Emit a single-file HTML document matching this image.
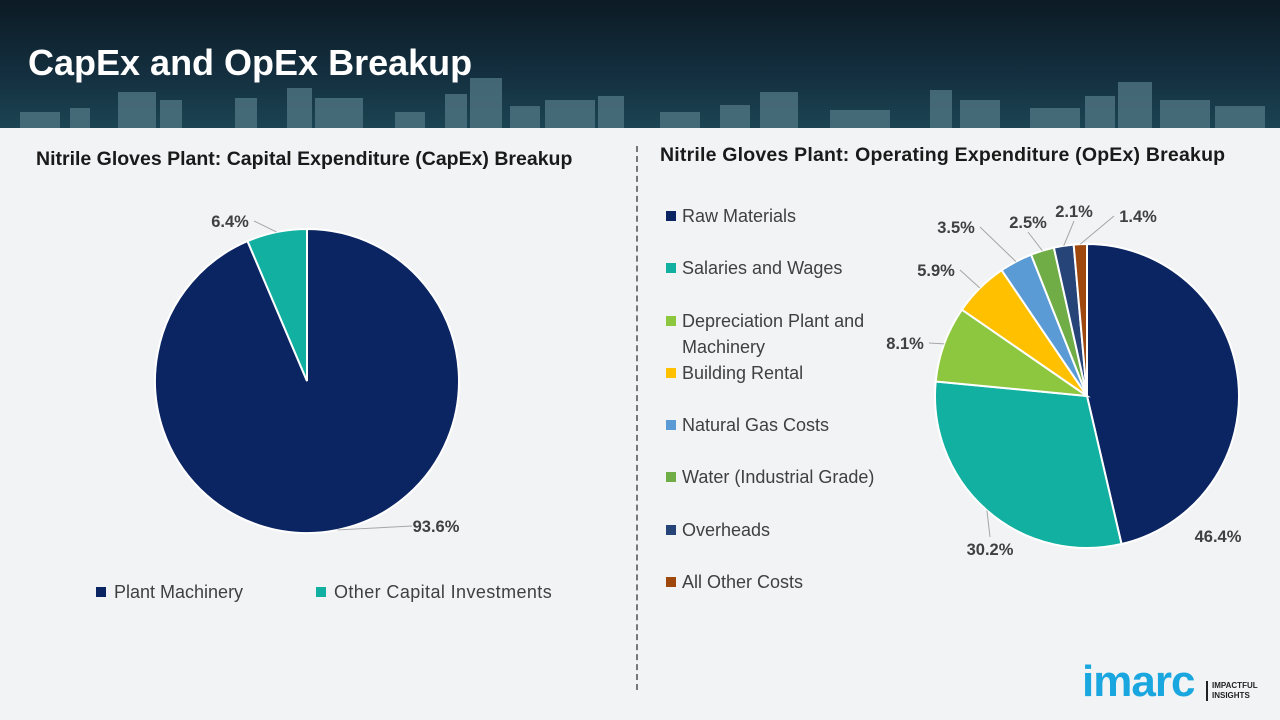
<!DOCTYPE html>
<html><head><meta charset="utf-8"><style>
body{margin:0;width:1280px;height:720px;overflow:hidden;font-family:"Liberation Sans","DejaVu Sans",sans-serif;background:#f2f3f4;position:relative}
.hdr{position:absolute;left:0;top:0;width:1280px;height:128px;background:linear-gradient(180deg,#0c1a24 0%,#143040 60%,#1b4452 100%)}
.title{position:absolute;left:28px;top:42px;color:#fff;font-weight:bold;font-size:36px}
.ct{position:absolute;font-weight:bold;font-size:19.5px;color:#1a1a1a;white-space:nowrap}
.leg{position:absolute;font-size:18px;color:#404040}
.sw{display:inline-block;width:10px;height:10px;margin-right:8px;vertical-align:1px}
</style></head><body>
<div class="hdr">
<svg width="1280" height="128" style="position:absolute;left:0;top:0">
<g fill="#4f7482" opacity="0.8">
<rect x="20" y="112" width="40" height="16"/><rect x="70" y="108" width="20" height="20"/><rect x="118" y="92" width="38" height="36"/><rect x="160" y="100" width="22" height="28"/><rect x="235" y="98" width="22" height="30"/><rect x="287" y="88" width="25" height="40"/><rect x="315" y="98" width="48" height="30"/><rect x="395" y="112" width="30" height="16"/><rect x="445" y="94" width="22" height="34"/><rect x="470" y="78" width="32" height="50"/><rect x="510" y="106" width="30" height="22"/><rect x="545" y="100" width="50" height="28"/><rect x="598" y="96" width="26" height="32"/>
<rect x="660" y="112" width="40" height="16"/><rect x="720" y="105" width="30" height="23"/><rect x="760" y="92" width="38" height="36"/><rect x="830" y="110" width="60" height="18"/><rect x="930" y="90" width="22" height="38"/><rect x="960" y="100" width="40" height="28"/><rect x="1030" y="108" width="50" height="20"/><rect x="1085" y="96" width="30" height="32"/><rect x="1118" y="82" width="34" height="46"/><rect x="1160" y="100" width="50" height="28"/><rect x="1215" y="106" width="50" height="22"/>
</g></svg>
<div class="title">CapEx and OpEx Breakup</div>
</div>
<div class="ct" style="left:36px;top:148px">Nitrile Gloves Plant: Capital Expenditure (CapEx) Breakup</div>
<div class="ct" style="left:660px;top:144px;letter-spacing:0.2px">Nitrile Gloves Plant: Operating Expenditure (OpEx) Breakup</div>
<div style="position:absolute;left:636px;top:146px;height:544px;border-left:2px dashed #777"></div>
<svg id="chart" width="1280" height="720" style="position:absolute;left:0;top:0"></svg>
<div class="leg" style="left:96px;top:582px"><span class="sw" style="background:#0b2563"></span>Plant Machinery</div>
<div class="leg" style="left:316px;top:582px;letter-spacing:0.4px"><span class="sw" style="background:#12b0a0"></span>Other Capital Investments</div>
<div id="opleg"></div>
<div style="position:absolute;left:1082px;top:660px;font-size:44px;font-weight:bold;color:#1aa7e0;letter-spacing:-1px;line-height:44px">imarc</div>
<div style="position:absolute;left:1206px;top:681px;border-left:2px solid #222;padding-left:4px;font-size:8px;font-weight:bold;color:#222;line-height:10px">IMPACTFUL<br>INSIGHTS</div>
<script>
const capCats=["Plant Machinery","Other Capital Investments"];
const capVals=[93.6,6.4];
const capColors=["#0b2563","#12b0a0"];
const opCats=["Raw Materials","Salaries and Wages","Depreciation Plant and Machinery","Building Rental","Natural Gas Costs","Water (Industrial Grade)","Overheads","All Other Costs"];
const opVals=[46.4,30.2,8.1,5.9,3.5,2.5,2.1,1.4];
const opColors=["#0b2563","#12b0a0","#8dc63f","#ffc000","#5b9bd5","#70ad47","#264478","#9e480e"];
const capLabelPos=[[436,532],[230,227]];
const opLabelPos=[[1218,542],[990,555],[905,349],[936,276],[956,233],[1028,228],[1074,217],[1138,222]];
const capLeader=[true,true];
const opLeader=[false,true,true,true,true,true,true,true];
const NS="http://www.w3.org/2000/svg",svg=document.getElementById('chart');
function mk(t,a){const e=document.createElementNS(NS,t);for(const k in a)e.setAttribute(k,a[k]);svg.appendChild(e);return e;}
function pt(cx,cy,r,f){const a=f*2*Math.PI;return [cx+r*Math.sin(a),cy-r*Math.cos(a)];}
function pie(cx,cy,r,vals,cols,lp,lead,name){
 const tot=vals.reduce((a,b)=>a+b,0);let acc=0;
 vals.forEach((v,i)=>{
  const f0=acc/tot,f1=(acc+v)/tot;acc+=v;
  const p0=pt(cx,cy,r,f0),p1=pt(cx,cy,r,f1),lg=(f1-f0)>0.5?1:0;
  const p=mk('path',{d:`M${cx},${cy}L${p0[0]},${p0[1]}A${r},${r} 0 ${lg} 1 ${p1[0]},${p1[1]}Z`,fill:cols[i],stroke:'#fff','stroke-width':2});
  
  
  const L=lp[i];
  if(lead[i]){
   const m=pt(cx,cy,r,(f0+f1)/2);
   let ex=L[0],ey=L[1]-6;
   if(Math.abs(m[0]-L[0])>30){ex=L[0]+(m[0]<L[0]?-24:24);}else{ey=m[1]<L[1]?L[1]-18:L[1]+4;}
   const ln=mk('polyline',{points:`${m[0]},${m[1]} ${ex},${ey}`,fill:'none',stroke:'#a6a6a6','stroke-width':1});
   
   
  }
  const t=mk('text',{x:L[0],y:L[1],'text-anchor':'middle','font-size':'16.5','font-weight':'bold',fill:'#404040','font-family':'Liberation Sans, sans-serif'});
  t.textContent=v.toFixed(1)+'%';
  
  
 });
}
pie(307,381,152,capVals,capColors,capLabelPos,capLeader,'capex');
pie(1087,396,152,opVals,opColors,opLabelPos,opLeader,'opex');
const lg=document.getElementById('opleg');
const ly=[203,255,308,360,412,464,517,569];
opCats.forEach((c,i)=>{
 const d=document.createElement('div');d.className='leg';
 d.style.left='666px';d.style.top=ly[i]+'px';d.style.width='230px';d.style.lineHeight='26px';d.style.paddingLeft='16px';d.style.textIndent='-16px';
 d.innerHTML='<span class="sw" style="background:'+opColors[i]+';margin-right:6px"></span>'+c;
 
 
 lg.appendChild(d);
});
</script>
</body></html>
